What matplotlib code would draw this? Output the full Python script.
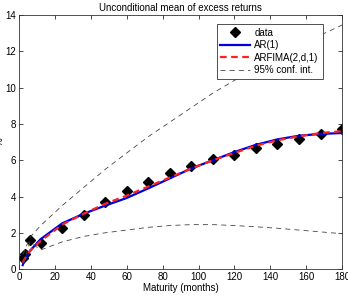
import numpy as np
import matplotlib
matplotlib.use('Agg')
from matplotlib import pyplot as plt

plt.rcParams['font.family'] = ['Liberation Sans', 'DejaVu Sans']

maturity = [2, 3, 6, 12, 24, 36, 48, 60, 72, 84, 96, 108, 120, 132, 144, 156, 168, 180]
data = [0.6, 0.83, 1.6, 1.42, 2.28, 3.0, 3.7, 4.3, 4.8, 5.28, 5.7, 6.05, 6.3, 6.65, 6.92, 7.18, 7.42, 7.72]
ar1 = [0.22, 0.5, 1.0, 1.65, 2.52, 3.05, 3.5, 3.92, 4.45, 5.0, 5.55, 6.0, 6.45, 6.85, 7.15, 7.35, 7.45, 7.5]
arfima = [0.35, 0.55, 1.0, 1.55, 2.45, 3.05, 3.6, 4.05, 4.55, 5.05, 5.55, 6.0, 6.4, 6.8, 7.1, 7.32, 7.5, 7.6]
ci_upper = [0.8, 1.0, 1.75, 2.4, 3.5, 4.5, 5.5, 6.4, 7.3, 8.1, 8.9, 9.7, 10.4, 11.1, 11.8, 12.4, 12.9, 13.45]
ci_lower = [0.3, 0.5, 1.5, 1.05, 1.5, 1.8, 2.0, 2.15, 2.3, 2.4, 2.45, 2.45, 2.4, 2.33, 2.25, 2.15, 2.05, 1.95]

fig = plt.figure(figsize=(3.48, 2.96), dpi=100)
ax = fig.add_axes([0.055, 0.091, 0.928, 0.858])

ax.plot(maturity, data, 'kD', markersize=5, label='data')
ax.plot(maturity, ar1, color='#0000dd', lw=1.6, label='AR(1)')
ax.plot(maturity, arfima, color='#ff2020', lw=1.6, ls=(0, (3, 2)), label='ARFIMA(2,d,1)')
ax.plot(maturity, ci_upper, color='#444444', lw=0.6, ls=(0, (6, 5)), label='95% conf. int.')
ax.plot(maturity, ci_lower, color='#444444', lw=0.6, ls=(0, (6, 5)))

ax.set_xlim(0, 180)
ax.set_ylim(0, 14)
ax.set_xticks(np.arange(0, 181, 20))
ax.set_yticks(np.arange(0, 15, 2))
ax.tick_params(direction='in', top=True, right=True, labelsize=7, length=3, width=0.5, pad=2)
for s in ax.spines.values():
    s.set_linewidth(0.6)
    s.set_color('#333333')

ax.set_title('Unconditional mean of excess returns', fontsize=7, pad=3)
ax.set_xlabel('Maturity (months)', fontsize=7, labelpad=1)
ax.set_ylabel('%', fontsize=7, labelpad=1)

leg = ax.legend(loc='upper right', bbox_to_anchor=(0.955, 0.985), fontsize=7,
                fancybox=False, framealpha=1, edgecolor='#333333',
                handlelength=3, borderpad=0.4, labelspacing=0.25, handletextpad=0.5)
leg.get_frame().set_linewidth(0.6)

fig.savefig('out.png', dpi=100)
